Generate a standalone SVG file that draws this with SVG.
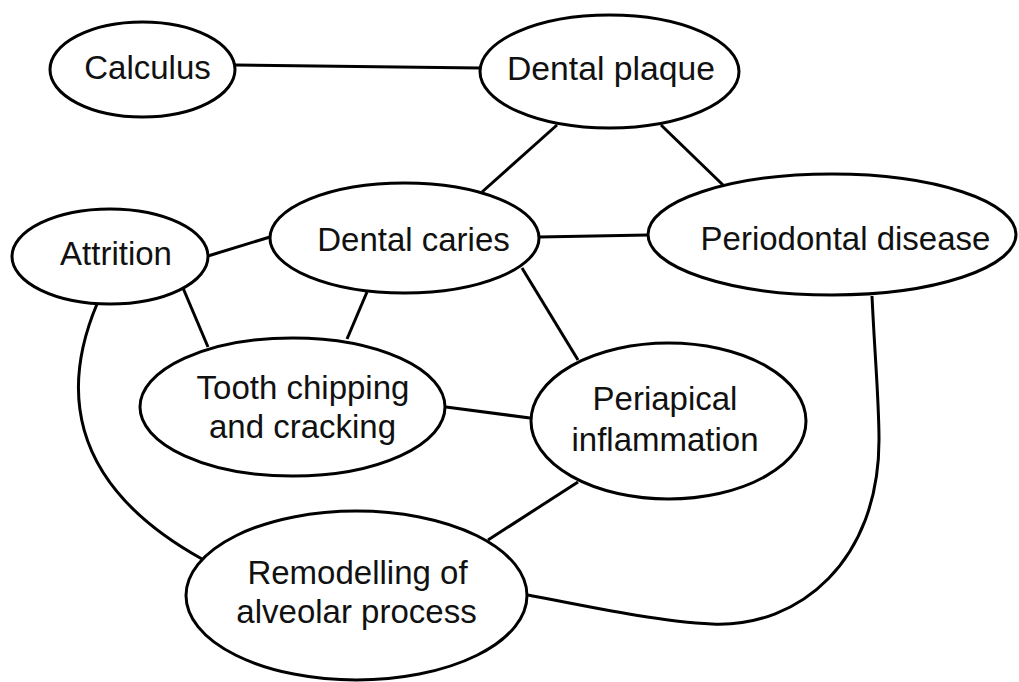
<svg xmlns="http://www.w3.org/2000/svg" width="1019" height="682" viewBox="0 0 1019 682">
<style>
.node ellipse{fill:#fff;stroke:#000;stroke-width:3}
.node text{font-family:"Liberation Sans",Arial,sans-serif;font-size:33px;fill:#111;text-anchor:middle}
#connectors line,#connectors path{stroke:#000;stroke-width:3;fill:none}
</style>
<rect width="1019" height="682" fill="#fff"/>
<g id="connectors">
<line x1="235" y1="65" x2="480" y2="68"/>
<line x1="557" y1="125" x2="482" y2="192"/>
<line x1="661" y1="125" x2="723" y2="185"/>
<line x1="208" y1="256" x2="270" y2="237"/>
<line x1="539" y1="237" x2="648" y2="235"/>
<line x1="183" y1="288" x2="208" y2="347"/>
<line x1="367" y1="292" x2="347" y2="339"/>
<line x1="522" y1="268" x2="578" y2="360"/>
<line x1="446" y1="407" x2="530" y2="418"/>
<line x1="578" y1="482" x2="488" y2="540"/>
<path d="M97,304 C65,380 60,480 202,559"/>
<path d="M872,296 C875,360 879,400 879,440 C879,560 800,628 712,624 C660,622 590,607 528,595"/>
</g>
<g id="calculus" class="node"><ellipse cx="142.5" cy="69.5" rx="92.5" ry="47.5"/><text x="147.5" y="79">Calculus</text></g>
<g id="dental-plaque" class="node"><ellipse cx="609.5" cy="71.5" rx="129.5" ry="56.5"/><text x="611" y="80" textLength="208" lengthAdjust="spacingAndGlyphs">Dental plaque</text></g>
<g id="attrition" class="node"><ellipse cx="110" cy="256.5" rx="98" ry="47.5"/><text x="116" y="265">Attrition</text></g>
<g id="dental-caries" class="node"><ellipse cx="404.5" cy="238" rx="134.5" ry="55"/><text x="413.5" y="251">Dental caries</text></g>
<g id="periodontal-disease" class="node"><ellipse cx="832" cy="234.5" rx="184" ry="60.5"/><text x="845.5" y="250">Periodontal disease</text></g>
<g id="tooth-chipping" class="node"><ellipse cx="292.5" cy="407" rx="152.5" ry="69"/><text x="303" y="399">Tooth chipping</text><text x="302.5" y="438">and cracking</text></g>
<g id="periapical-inflammation" class="node"><ellipse cx="668.5" cy="421" rx="137.5" ry="78"/><text x="665" y="410">Periapical</text><text x="665" y="451">inflammation</text></g>
<g id="remodelling" class="node"><ellipse cx="356.5" cy="595.5" rx="170.5" ry="84.5"/><text x="357.5" y="584">Remodelling of</text><text x="356.5" y="623">alveolar process</text></g>
</svg>
